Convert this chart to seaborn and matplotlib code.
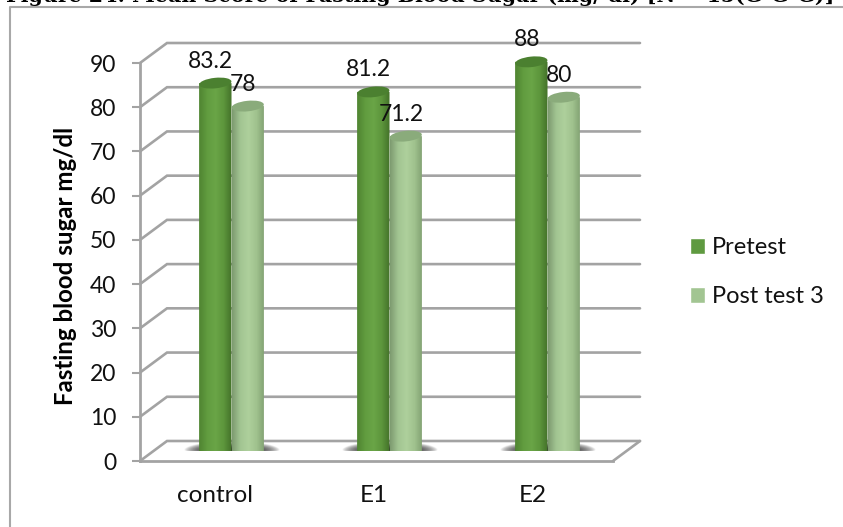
import numpy as np
import pandas as pd
import matplotlib
matplotlib.use("Agg")
import matplotlib.pyplot as plt
from matplotlib.colors import LinearSegmentedColormap, to_rgba
from matplotlib.lines import Line2D
from matplotlib.patches import Ellipse
from matplotlib.path import Path
from matplotlib.patches import PathPatch
from matplotlib.transforms import IdentityTransform
import seaborn as sns

groups = ["control", "E1", "E2"]
pretest = [83.2, 81.2, 88]
post_test = [78, 71.2, 80]
series_names = ["Pretest", "Post test 3"]
y_ticks = list(range(0, 100, 10))
title_text = "Figure 24: Mean Score of Fasting Blood Sugar (mg/ dl) [N = 15(G-G-G)]"
y_title = "Fasting blood sugar mg/dl"

W, H = 843, 527
GRID = "#a3a3a3"
FONT = "Lato"

sns.set_theme(style="white")
plt.rcParams["font.family"] = [FONT, "DejaVu Sans"]
plt.rcParams["text.color"] = "#111111"


def px_axes(fig, left, right, top, bottom, **kw):
    return fig.add_axes([left / W, 1 - bottom / H, (right - left) / W, (bottom - top) / H], **kw)


fig = plt.figure(figsize=(W / 100, H / 100), dpi=100, facecolor="white")

# outer chart border, cut off by the page on the right and bottom
fig.add_artist(Line2D([10 / W, 10 / W, 1], [0, 1 - 6.5 / H, 1 - 6.5 / H], color="#a8a8a8", lw=1.5))
fig.text(6 / W, 1 - 2 / H, title_text, family="DejaVu Serif", weight="bold", fontsize=14.8,
         color="black", va="baseline", ha="left")

# front plane: value axis, floor edge and category labels
front = px_axes(fig, 140, 613, 63, 461)
front.set_xlim(-0.4717, 2.503)
front.set_ylim(0, 90)
front.set_yticks(y_ticks)
front.set_xticks(range(len(groups)), groups)
front.tick_params(axis="y", length=6, width=1.5, color=GRID, pad=11, labelsize=16.5, left=True,
                  labelcolor="#111111")
front.tick_params(axis="x", length=0, pad=17, labelsize=17.5, labelcolor="#111111")
for name, spine in front.spines.items():
    spine.set_visible(name in ("left", "bottom"))
    spine.set_color(GRID)
    spine.set_linewidth(2)
front.set_ylabel(y_title, fontsize=17.3, fontweight="bold", labelpad=9, color="black", y=0.49)
front.patch.set_alpha(0)

# back wall grid lines with their receding stubs
depth_x = 27 / 473
depth_y = 20 / (398 / 90)
wall = front.get_yaxis_transform()
for v in y_ticks:
    end = 1 + depth_x
    front.plot([0, depth_x, end], [v, v + depth_y, v + depth_y], color=GRID, lw=1.9,
               transform=wall, clip_on=False, solid_joinstyle="miter", zorder=1)
front.plot([1, 1 + depth_x], [0, depth_y], color=GRID, lw=1.9, transform=wall, clip_on=False, zorder=1)

# mid-depth plane holding the cylinders
mid = px_axes(fig, 153.5, 626.5, 53, 451)
mid.patch.set_alpha(0)
df = pd.DataFrame({
    "group": groups * 2,
    "value": pretest + post_test,
    "series": [series_names[0]] * 3 + [series_names[1]] * 3,
})
legend_colors = ["#5f9a40", "#a2c592"]
sns.barplot(data=df, x="group", y="value", hue="series", palette=legend_colors, width=0.41,
            saturation=1, ax=mid, zorder=3)
xlim = ((153.5 - 231.5) / 158, (626.5 - 231.5) / 158)
mid.set_xlim(*xlim)
mid.set_ylim(0, 90)
sns.move_legend(mid, "upper left", bbox_to_anchor=((690 - 153.5) / 473, 1 - (237 - 53) / 398),
                frameon=False, title=None, fontsize=17, handlelength=0.64, handleheight=0.64,
                handletextpad=0.3, labelspacing=1.2, borderpad=0, borderaxespad=0)
mid.set_axis_off()
mid.get_legend().set_visible(True)

side_maps = [
    LinearSegmentedColormap.from_list("pre", ["#4f8431", "#619c3f", "#6aa547", "#5d963c", "#437129"]),
    LinearSegmentedColormap.from_list("post", ["#7d9a70", "#a2c592", "#aed09c", "#a0c28e", "#7f9f70"]),
]
top_colors = ["#4b8030", "#8aab7b"]
shade = np.linspace(0, 1, 128).reshape(1, -1)

bars = list(mid.patches)
trans = mid.transData
px_per_unit = 398 / 90
ell_h = 10.5

# soft floor shadow under each pair of cylinders
yy, xx = np.mgrid[-1:1:60j, -1:1:200j]
shadow = np.zeros((60, 200, 4))
shadow[..., :3] = to_rgba("#303030")[:3]
falloff = np.abs(xx) ** 3 + np.abs(yy) ** 1.6
shadow[..., 3] = np.clip(1 - falloff, 0, 1) ** 0.8
for c in range(len(groups)):
    half = 48 / 158
    mid.imshow(shadow, extent=(c - half, c + half, -1.3, 1.9), aspect="auto", zorder=2,
               interpolation="bilinear")

for bar in bars:
    x0, w, h = bar.get_x(), bar.get_width(), bar.get_height()
    if h <= 0:
        continue
    k = 0 if bar.get_facecolor()[:3] == to_rgba(legend_colors[0])[:3] else 1
    bar.set_alpha(0)
    rx = w / 2
    ry = (ell_h / 2) / px_per_unit
    cx = x0 + rx
    # cylinder body: straight sides with a rounded foot
    t = np.linspace(np.pi, 2 * np.pi, 40)
    verts = [(x0, h)] + list(zip(cx + rx * np.cos(t), ry * np.sin(t))) + [(x0 + w, h), (x0, h)]
    clip = PathPatch(Path(verts), transform=trans, fc="none", ec="none")
    mid.add_patch(clip)
    im = mid.imshow(shade, cmap=side_maps[k], extent=(x0, x0 + w, -ry, h), aspect="auto", zorder=4 + k)
    im.set_clip_path(clip)
    # cap, tilted a little as seen in perspective
    center = trans.transform((cx, h))
    cap = Ellipse(center, w * 158, ell_h, angle=6, transform=IdentityTransform(),
                  fc=top_colors[k], ec="none", zorder=5 + k)
    mid.add_patch(cap)
    mid.annotate(f"{h:g}", (cx, h), xytext=(-4.5 * 0.72, 22 * 0.72), textcoords="offset points",
                 ha="center", va="center", fontsize=16.5, zorder=8, annotation_clip=False)

mid.set_xlim(*xlim)
mid.set_ylim(0, 90)
fig.savefig("out.png", dpi=100, facecolor="white")
